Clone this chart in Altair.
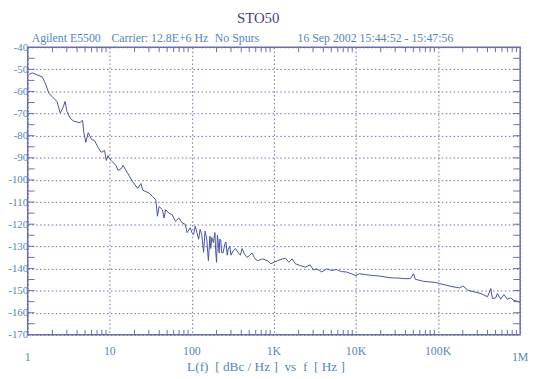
import altair as alt
import pandas as pd

# ---- data ----
freq = [1.04, 1.14, 1.5, 1.64, 1.81, 2.27, 2.49, 2.68, 2.86, 3.0, 3.28, 3.61, 4.33, 4.66, 4.83,
        5.11, 5.46, 5.98, 6.55, 7.2, 7.88, 8.64, 9.06, 9.49, 10.4, 11.9, 12.6, 13.8, 14.5, 16.6,
        19.1, 21.9, 24.0, 25.2, 27.6, 30.3, 33.2, 36.4, 38.1, 39.9, 43.8, 45.9, 48.0, 52.7, 57.7,
        63.2, 69.4, 76.1, 83.4, 87.4, 95.7, 100, 105, 110, 121, 126, 132, 139, 145, 152, 159, 166,
        170, 175, 183, 191, 195, 200, 205, 210, 215, 219, 225, 230, 240, 252, 260, 270, 277, 290,
        300, 318, 340, 365, 390, 410, 437, 470, 502, 540, 577, 600, 634, 728, 836, 916, 1003,
        1102, 1265, 1386, 1518, 1667, 1827, 2098, 2409, 2767, 3028, 3327, 3821, 4388, 5039, 5786,
        6645, 7630, 8762, 10000, 11000, 13200, 15900, 19100, 23000, 27700, 31800, 38200, 46000,
        50400, 52800, 66400, 80000, 96000, 105000, 126000, 152000, 183000, 200000, 230000,
        277000, 333000, 400000, 439000, 459000, 504000, 528000, 579000, 635000, 696000, 763000,
        837000, 917000, 1000000]
lf = [-52.3, -51.6, -53.4, -56.3, -60.8, -64.5, -69.7, -67.5, -64.5, -69.0, -72.0, -73.4, -74.1,
      -73.0, -78.6, -83.0, -78.6, -81.6, -82.3, -85.3, -87.5, -86.7, -91.2, -89.0, -91.2, -93.4,
      -95.7, -94.9, -93.4, -97.1, -100.9, -103.8, -101.6, -104.6, -105.3, -106.0, -107.5, -109.0,
      -116.4, -112.0, -113.5, -117.2, -113.5, -115.0, -115.7, -118.7, -117.2, -119.4, -120.1,
      -123.8, -121.6, -123.8, -124.6, -120.9, -126.8, -122.4, -124.6, -132.7, -123.1, -126.8,
      -136.5, -125.4, -131.0, -126.0, -128.3, -123.8, -132.0, -137.2, -125.0, -128.3, -133.0,
      -126.8, -127.0, -132.7, -133.0, -129.0, -128.0, -134.0, -131.3, -130.0, -134.0, -132.0,
      -131.0, -132.7, -134.0, -131.0, -133.5, -135.0, -134.2, -133.0, -135.0, -136.0, -136.5,
      -135.7, -136.5, -137.9, -137.2, -136.5, -135.7, -135.4, -137.2, -135.7, -137.9, -138.7,
      -139.4, -138.4, -140.7, -140.2, -141.6, -140.2, -140.9, -140.5, -141.4, -141.6, -142.4,
      -143.2, -142.4, -142.8, -143.2, -143.4, -143.9, -144.3, -144.3, -144.6, -144.6, -142.4,
      -144.9, -145.8, -146.1, -146.4, -146.9, -147.6, -148.3, -148.8, -147.9, -149.8, -150.6,
      -151.3, -152.8, -149.1, -153.6, -153.3, -151.3, -153.9, -151.8, -153.9, -153.3, -154.4,
      -154.8, -155.4]

x_major = [1, 10, 100, 1000, 10000, 100000, 1000000]
x_major_labels = ["1", "10", "100", "1K", "10K", "100K", "1M"]
x_minor = [d * m for d in [1, 10, 100, 1000, 10000, 100000] for m in range(2, 10)]
y_major = list(range(-170, -39, 10))
y_minor = list(range(-165, -40, 5))

title_text = "STO50"
header_parts = ["Agilent E5500", "Carrier: 12.8E+6 Hz", "No Spurs",
                "16 Sep 2002", "15:44:52 - 15:47:56"]
NB = "\u00a0"
x_title = f"L(f){NB}{NB}[ dBc / Hz ]{NB}{NB}vs{NB}{NB}f{NB}{NB}[ Hz ]"

W, H = 500, 292
FONT = "Liberation Serif"
TXT = "#5486c0"
AX = "#6a6db0"
LINE = "#4652a4"

xs = alt.Scale(type="log", domain=[1, 1000000], nice=False)
ys = alt.Scale(domain=[-170, -40], nice=False, zero=False)

x_axis = alt.Axis(values=x_major, grid=True, gridDash=[1.5, 2.5], gridColor=AX,
                  gridWidth=1, labels=False, ticks=False, domain=False, title=None)
y_axis = alt.Axis(values=y_major, grid=True, gridDash=[1.5, 2.5], gridColor=AX,
                  gridWidth=1, ticks=False, domain=False, title=None,
                  labelExpr="'' + datum.value", labelFont=FONT, labelFontSize=11,
                  labelColor=TXT, labelPadding=0, labelOverlap=False)

df = pd.DataFrame({"f": freq, "L": lf})

line = alt.Chart(df).mark_line(color=LINE, strokeWidth=1, clip=True).encode(
    x=alt.X("f:Q", scale=xs, axis=x_axis),
    y=alt.Y("L:Q", scale=ys, axis=y_axis),
)

xm = pd.DataFrame({"t": x_minor})
ym = pd.DataFrame({"t": y_minor})

xt_bot = alt.Chart(xm).mark_rule(color=AX, strokeWidth=1).encode(
    x=alt.X("t:Q", scale=xs, axis=x_axis), y=alt.value(H), y2=alt.value(H - 5))
xt_top = alt.Chart(xm).mark_rule(color=AX, strokeWidth=1).encode(
    x=alt.X("t:Q", scale=xs, axis=x_axis), y=alt.value(0), y2=alt.value(5))
yt_left = alt.Chart(ym).mark_rule(color=AX, strokeWidth=1).encode(
    y=alt.Y("t:Q", scale=ys, axis=y_axis), x=alt.value(0), x2=alt.value(7))
yt_right = alt.Chart(ym).mark_rule(color=AX, strokeWidth=1).encode(
    y=alt.Y("t:Q", scale=ys, axis=y_axis), x=alt.value(W - 7), x2=alt.value(W))

lab = pd.DataFrame({"v": x_major, "s": x_major_labels})
lab_lo = lab[lab["s"].isin(["1", "1M"])]
lab_hi = lab[~lab["s"].isin(["1", "1M"])]
xl_hi = alt.Chart(lab_hi).mark_text(font=FONT, fontSize=12, color=TXT, baseline="alphabetic").encode(
    x=alt.X("v:Q", scale=xs, axis=x_axis), y=alt.value(H + 20), text="s:N")
xl_lo = alt.Chart(lab_lo).mark_text(font=FONT, fontSize=12, color=TXT, baseline="alphabetic").encode(
    x=alt.X("v:Q", scale=xs, axis=x_axis), y=alt.value(H + 27), text="s:N")

one = pd.DataFrame({"a": [0]})
t_title = alt.Chart(one).mark_text(text=title_text, font=FONT, fontSize=15, color="#3f4188",
                                   baseline="alphabetic").encode(x=alt.value(234), y=alt.value(-25))
header_x = [4, 85, 190, 274, 337]
headers = [
    alt.Chart(one).mark_text(text=t, font=FONT, fontSize=12, color=TXT, align="left",
                             baseline="alphabetic").encode(x=alt.value(hx), y=alt.value(-5))
    for t, hx in zip(header_parts, header_x)
]
t_xt = alt.Chart(one).mark_text(text=x_title, font=FONT, fontSize=13.5, color=TXT,
                                baseline="alphabetic").encode(x=alt.value(242), y=alt.value(H + 37))

chart = alt.layer(line, xt_bot, xt_top, yt_left, yt_right, xl_hi, xl_lo,
                  t_title, *headers, t_xt).properties(
    width=W, height=H,
    autosize=alt.AutoSizeParams(type="none"),
    padding={"left": 20, "top": 37, "right": 10, "bottom": 40},
    background="white",
).configure_view(stroke=AX, strokeWidth=1.5)

chart.save("out.html", embed_options={"renderer": "svg", "actions": False})
